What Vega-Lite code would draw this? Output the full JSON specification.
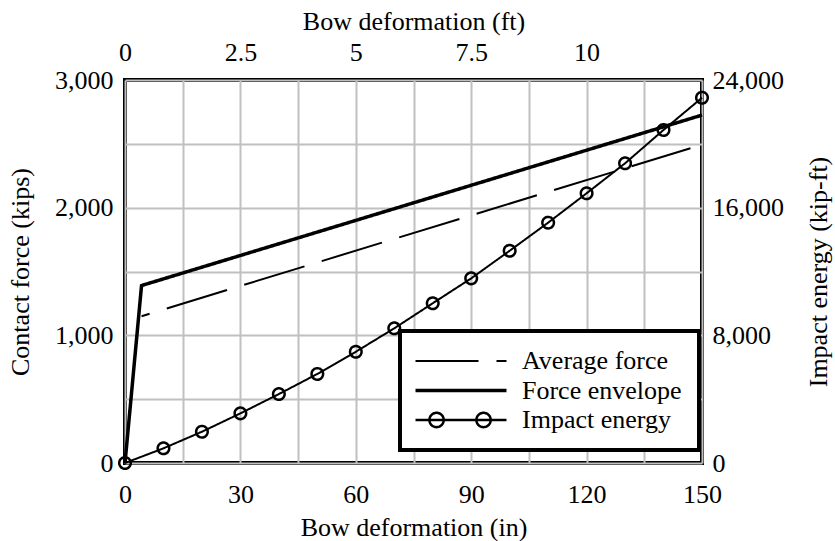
{
  "$schema": "https://vega.github.io/schema/vega-lite/v6.json",
  "width": 577,
  "height": 383,
  "autosize": "none",
  "padding": {"left": 125, "top": 80, "right": 133, "bottom": 78},
  "background": "white",
  "config": {
    "view": {"stroke": "black", "strokeWidth": 4},
    "font": "Liberation Serif",
    "axis": {
      "labelFont": "Liberation Serif",
      "labelFontSize": 26,
      "labelColor": "black",
      "titleFont": "Liberation Serif",
      "titleFontSize": 26,
      "titleFontWeight": "normal",
      "titleColor": "black",
      "ticks": false,
      "domain": false,
      "gridColor": "#c0c0c0",
      "gridWidth": 2,
      "gridOpacity": 1,
      "labelFlush": false,
      "labelOverlap": false
    }
  },
  "datasets": {
    "avg": [
      {"in": 4.3, "force": 1150, "series": "Average force"},
      {"in": 147, "force": 2465, "series": "Average force"}
    ],
    "env": [
      {"in": 0, "force": 0, "series": "Force envelope"},
      {"in": 4.3, "force": 1390, "series": "Force envelope"},
      {"in": 150, "force": 2725, "series": "Force envelope"}
    ],
    "energy": [
      {"ft": 0, "energy": 0, "series": "Impact energy"},
      {"ft": 0.8333, "energy": 920, "series": "Impact energy"},
      {"ft": 1.6667, "energy": 1960, "series": "Impact energy"},
      {"ft": 2.5, "energy": 3110, "series": "Impact energy"},
      {"ft": 3.3333, "energy": 4320, "series": "Impact energy"},
      {"ft": 4.1667, "energy": 5580, "series": "Impact energy"},
      {"ft": 5, "energy": 6970, "series": "Impact energy"},
      {"ft": 5.8333, "energy": 8440, "series": "Impact energy"},
      {"ft": 6.6667, "energy": 10010, "series": "Impact energy"},
      {"ft": 7.5, "energy": 11570, "series": "Impact energy"},
      {"ft": 8.3333, "energy": 13300, "series": "Impact energy"},
      {"ft": 9.1667, "energy": 15060, "series": "Impact energy"},
      {"ft": 10, "energy": 16900, "series": "Impact energy"},
      {"ft": 10.8333, "energy": 18780, "series": "Impact energy"},
      {"ft": 11.6667, "energy": 20870, "series": "Impact energy"},
      {"ft": 12.5, "energy": 22890, "series": "Impact energy"}
    ]
  },
  "layer": [
    {
      "layer": [
        {
          "data": {"name": "avg"},
          "mark": {"type": "line", "color": "black", "strokeWidth": 2, "strokeDashOffset": 54.6, "strokeCap": "butt"},
          "encoding": {
            "x": {
              "field": "in", "type": "quantitative",
              "scale": {"domain": [0, 150], "nice": false},
              "axis": {
                "orient": "bottom", "title": "Bow deformation (in)",
                "values": [0, 15, 30, 45, 60, 75, 90, 105, 120, 135, 150],
                "format": "d",
                "labelExpr": "datum.value % 30 === 0 ? datum.label : ''",
                "labelPadding": 18, "titlePadding": 7
              }
            },
            "y": {
              "field": "force", "type": "quantitative",
              "scale": {"domain": [0, 3000], "nice": false},
              "axis": {
                "orient": "left", "title": "Contact force (kips)",
                "values": [0, 500, 1000, 1500, 2000, 2500, 3000],
                "format": ",d",
                "labelExpr": "datum.value % 1000 === 0 ? datum.label : ''",
                "labelPadding": 12, "titlePadding": 21
              }
            },
            "strokeDash": {
              "field": "series", "type": "nominal",
              "scale": {
                "domain": ["Average force", "Force envelope", "Impact energy"],
                "range": [[63, 18], [1, 0], [1, 0]]
              },
              "legend": {
                "title": null,
                "orient": "none",
                "legendX": 275,
                "legendY": 251,
                "padding": 17,
                "rowPadding": 3.5,
                "symbolType": "stroke",
                "symbolSize": 729,
                "symbolStrokeWidth": 2,
                "symbolStrokeColor": "black",
                "symbolOffset": 31,
                "labelOffset": 48,
                "labelFont": "Liberation Serif",
                "labelFontSize": 26,
                "labelColor": "black",
                "labelLimit": 400,
                "fillColor": "white",
                "strokeColor": "black",
                "encode": {
                  "symbols": {
                    "update": {
                      "shape": {"signal": "datum.value === 'Impact energy' ? 'M-3.37,0H3.37M-2.34,0A0.53,0.53 0 1,0 -1.28,0A0.53,0.53 0 1,0 -2.34,0M1.14,0A0.53,0.53 0 1,0 2.2,0A0.53,0.53 0 1,0 1.14,0' : 'M-3.37,0H3.37'"},
                      "strokeWidth": {"signal": "datum.value === 'Force envelope' ? 3.5 : datum.value === 'Impact energy' ? 2.5 : 2"},
                      "stroke": {"value": "black"},
                      "fill": {"value": "transparent"},
                      "opacity": {"value": 1}
                    }
                  },
                  "legend": {
                    "update": {
                      "stroke": {"value": "black"},
                      "strokeWidth": {"value": 4},
                      "fill": {"value": "white"}
                    }
                  }
                }
              }
            }
          }
        },
        {
          "data": {"name": "env"},
          "mark": {"type": "line", "color": "black", "strokeWidth": 3.5},
          "encoding": {
            "x": {"field": "in", "type": "quantitative"},
            "y": {"field": "force", "type": "quantitative"},
            "strokeDash": {"field": "series", "type": "nominal", "legend": null}
          }
        }
      ]
    },
    {
      "data": {"name": "energy"},
      "mark": {
        "type": "line", "color": "black", "strokeWidth": 2,
        "point": {"filled": false, "fill": "transparent", "stroke": "black", "size": 133, "strokeWidth": 2.5}
      },
      "encoding": {
        "x": {
          "field": "ft", "type": "quantitative",
          "scale": {"domain": [0, 12.5], "nice": false},
          "axis": {
            "orient": "top", "title": "Bow deformation (ft)",
            "values": [0, 2.5, 5, 7.5, 10], "format": "~g",
            "grid": false, "labelPadding": 15, "titlePadding": 5
          }
        },
        "y": {
          "field": "energy", "type": "quantitative",
          "scale": {"domain": [0, 24000], "nice": false},
          "axis": {
            "orient": "right", "title": "Impact energy (kip-ft)",
            "values": [0, 8000, 16000, 24000], "format": ",d",
            "grid": false, "labelPadding": 10,
            "titleAngle": 270, "titleBaseline": "top", "titlePadding": 22
          }
        },
        "strokeDash": {"field": "series", "type": "nominal", "legend": null}
      }
    }
  ],
  "resolve": {"scale": {"x": "independent", "y": "independent"}}
}
